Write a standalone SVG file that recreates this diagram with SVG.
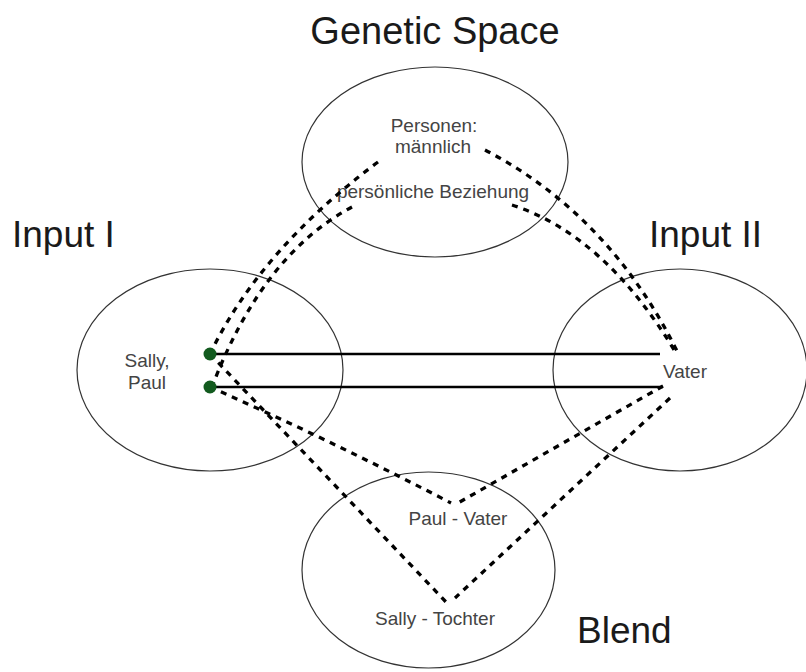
<svg xmlns="http://www.w3.org/2000/svg" width="806" height="672" viewBox="0 0 806 672">
<style>
.ell{fill:none;stroke:#333;stroke-width:1.2}
.lbl{font-family:"Liberation Sans",Arial,sans-serif;font-size:37px;fill:#1a1a1a}
.txt{font-family:"Liberation Sans",Arial,sans-serif;font-size:19px;fill:#444}
.dash{fill:none;stroke:#000;stroke-width:3.3;stroke-dasharray:6 6}
.solid{stroke:#000;stroke-width:2.5}
.dot{fill:#125a1e}
</style>
<rect width="806" height="672" fill="#fff"/>
<g id="genetic-space">
<ellipse class="ell" cx="435" cy="162" rx="133" ry="95"/>
<text class="lbl" x="435" y="44" text-anchor="middle" style="font-size:38px">Genetic Space</text>
<text class="txt" x="434" y="132" text-anchor="middle">Personen:</text>
<text class="txt" x="433" y="153" text-anchor="middle">männlich</text>
<text class="txt" x="433" y="198" text-anchor="middle">persönliche Beziehung</text>
</g>
<g id="input-1">
<ellipse class="ell" cx="210" cy="370" rx="133" ry="101"/>
<text class="lbl" x="12" y="247">Input I</text>
<text class="txt" x="147" y="367" text-anchor="middle">Sally,</text>
<text class="txt" x="147" y="389" text-anchor="middle">Paul</text>
</g>
<g id="input-2">
<ellipse class="ell" cx="680" cy="370" rx="127" ry="101"/>
<text class="lbl" x="649" y="247">Input II</text>
<text class="txt" x="663" y="378">Vater</text>
</g>
<g id="blend">
<ellipse class="ell" cx="428.5" cy="570" rx="126.5" ry="98"/>
<text class="lbl" x="577" y="643">Blend</text>
<text class="txt" x="458" y="525" text-anchor="middle">Paul - Vater</text>
<text class="txt" x="435" y="625" text-anchor="middle">Sally - Tochter</text>
</g>
<g id="connectors">
<line class="solid" x1="210" y1="354" x2="660" y2="354"/>
<line class="solid" x1="210" y1="387" x2="663" y2="387"/>
<path class="dash" d="M378,162 Q260,250 210,354"/>
<path class="dash" d="M352,207 Q262,255 212,387"/>
<path class="dash" d="M485,150 Q610,215 678,353"/>
<path class="dash" d="M512,205 Q605,235 676,353"/>
<path class="dash" d="M210,354 L446,602"/>
<path class="dash" d="M210,387 Q330,440 451,503"/>
<path class="dash" d="M663,386 L458,503"/>
<path class="dash" d="M670,398 L455,598"/>
<circle class="dot" cx="210" cy="354" r="6.5"/>
<circle class="dot" cx="210" cy="387" r="6.5"/>
</g>
</svg>
